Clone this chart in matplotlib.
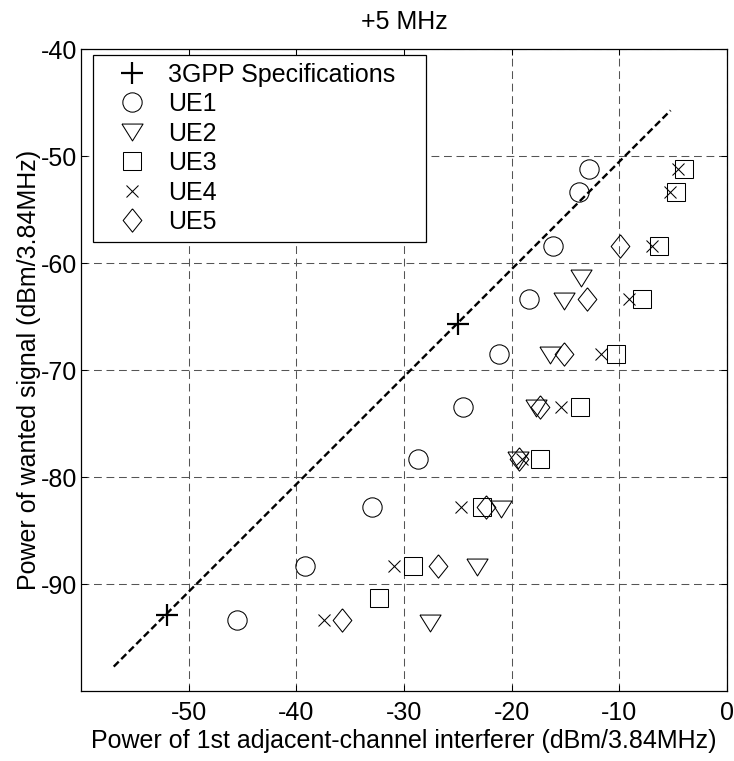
import matplotlib
matplotlib.use('Agg')
import matplotlib.pyplot as plt

plt.rcParams['font.family'] = ['Liberation Sans', 'DejaVu Sans']
plt.rcParams['axes.unicode_minus'] = False

# 3GPP specification points and the dashed reference line
spec_x = [-52.0, -25.0]
spec_y = [-92.9, -65.65]
line_x = [-57.0, -5.2]
line_y = [-97.7, -45.7]

# measured UEs
ue1_x = [-12.8, -13.7, -16.1, -18.4, -21.2, -24.5, -28.7, -33.0, -39.2, -45.5]
ue1_y = [-51.2, -53.3, -58.4, -63.3, -68.5, -73.4, -78.3, -82.8, -88.3, -93.3]
ue2_x = [-13.5, -15.1, -16.4, -17.7, -19.4, -21.0, -23.2, -27.6]
ue2_y = [-61.4, -63.5, -68.6, -73.5, -78.4, -83.0, -88.4, -93.6]
ue3_x = [-4.0, -4.7, -6.25, -7.9, -10.3, -13.6, -17.35, -22.7, -29.2, -32.35]
ue3_y = [-51.2, -53.3, -58.4, -63.3, -68.5, -73.4, -78.3, -82.8, -88.3, -91.3]
ue4_x = [-4.5, -5.3, -6.9, -9.1, -11.7, -15.4, -19.0, -24.7, -30.9, -37.4]
ue4_y = [-51.2, -53.3, -58.4, -63.3, -68.5, -73.4, -78.3, -82.8, -88.3, -93.3]
ue5_x = [-9.9, -13.0, -15.1, -17.35, -19.3, -22.4, -26.8, -35.75]
ue5_y = [-58.4, -63.3, -68.5, -73.4, -78.3, -82.8, -88.3, -93.3]

xticks = [-50, -40, -30, -20, -10, 0]
yticks = [-90, -80, -70, -60, -50, -40]

fs = 18
fig = plt.figure(figsize=(7.34, 7.61), dpi=100)
ax = fig.add_axes([0.111, 0.0917, 0.8788, 0.8433])

# tall thin diamond and flat triangle like matlab markers
diamond = [(0, 1), (0.8, 0), (0, -1), (-0.8, 0), (0, 1)]
tri = [(-1, 0.8), (1, 0.8), (0, -0.8), (-1, 0.8)]

mk = dict(linestyle='none', markerfacecolor='none', markeredgecolor='k', markeredgewidth=0.75)
ax.plot(line_x, line_y, color='k', linestyle=(0, (3.0, 1.5)), linewidth=1.7)
ax.plot(spec_x, spec_y, marker='+', markersize=15.5, markeredgewidth=1.6, color='k',
        linestyle='none', label='3GPP Specifications')
ax.plot(ue1_x, ue1_y, marker='o', markersize=13.9, label='UE1', **mk)
ax.plot(ue2_x, ue2_y, marker=tri, markersize=15.2, label='UE2', **mk)
ax.plot(ue3_x, ue3_y, marker='s', markersize=12.5, label='UE3', **mk)
ax.plot(ue4_x, ue4_y, marker='x', markersize=8.8, label='UE4', **mk)
ax.plot(ue5_x, ue5_y, marker=diamond, markersize=16.8, label='UE5', **mk)

ax.set_xlim(-60, 0)
ax.set_ylim(-100, -40)
ax.set_xticks(xticks)
ax.set_yticks(yticks)
ax.grid(True, color='#555555', linestyle=(0, (7.5, 4.5)), linewidth=0.75)
ax.tick_params(direction='in', length=4.5, width=0.75, top=True, right=True,
               labelsize=fs, pad=7)
ax.tick_params(axis='y', pad=3)
for s in ax.spines.values():
    s.set_linewidth(0.9)

ax.set_title('+5 MHz', fontsize=fs, pad=15)
ax.set_xlabel('Power of 1st adjacent-channel interferer (dBm/3.84MHz)', fontsize=fs, labelpad=3)
ax.set_ylabel('Power of wanted signal (dBm/3.84MHz)', fontsize=fs, labelpad=0)

leg = ax.legend(loc='upper left', bbox_to_anchor=(0.0174, 0.701, 0.5162, 0.29),
                mode='expand', borderaxespad=0, fontsize=fs, fancybox=False,
                framealpha=1, edgecolor='k', borderpad=0.3, labelspacing=0.22,
                handlelength=2.57, handletextpad=0.13)
leg.get_frame().set_linewidth(0.9)

plt.savefig('out.png', dpi=100)
